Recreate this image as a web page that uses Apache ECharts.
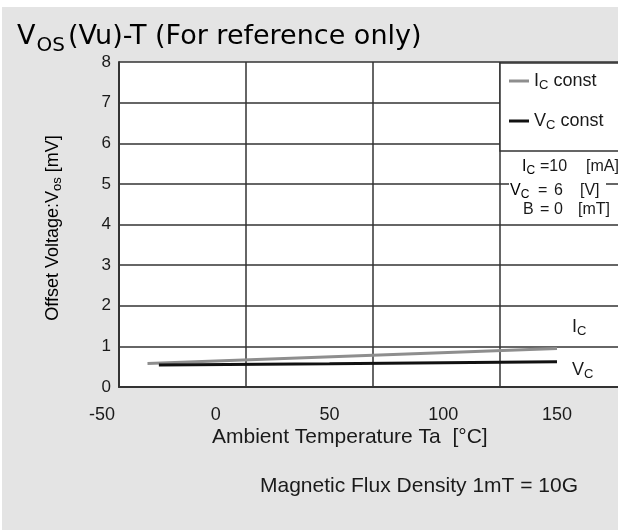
<!DOCTYPE html>
<html><head><meta charset="utf-8">
<script src="https://cdn.jsdelivr.net/npm/echarts@6/dist/echarts.min.js"></script>
<style>html,body{margin:0;padding:0;background:#fff}#c{width:618px;height:530px}</style>
</head><body><div id="c"></div>
<script>
// ---- data ----
const xTicks = [-50, 0, 50, 100, 150];
const yTicks = [0, 1, 2, 3, 4, 5, 6, 7, 8];
const seriesNames = ['Ic const', 'Vc const'];
const icTemp = [-30, 150];
const icVos = [0.58, 0.95];
const vcTemp = [-25, 50, 150];
const vcVos = [0.54, 0.57, 0.62];

const F = "'Liberation Sans', Arial, sans-serif";
const TXT = '#1a1a1a';
const LINE = '#333';

const subRich = (size, sub, lh) => ({
  m: {fontSize: size, fontFamily: F, color: TXT, lineHeight: lh},
  s: {fontSize: sub, fontFamily: F, color: TXT, lineHeight: sub, verticalAlign: 'bottom'}
});

const chart = echarts.init(document.getElementById('c'), null, {renderer: 'canvas'});
const xmin = xTicks[0], xmax = xTicks[xTicks.length - 1];
const ymin = yTicks[0], ymax = yTicks[yTicks.length - 1];

const option = {
  backgroundColor: '#e4e4e4',
  animation: false,
  grid: [
    {left: 119, top: 62, width: 508, height: 325, show: true, backgroundColor: '#fff', borderWidth: 0, outerBoundsMode: 'none'},
    {left: 102, top: 62, width: 455, height: 325, show: false, outerBoundsMode: 'none'}
  ],
  xAxis: [
    {gridIndex: 0, type: 'value', min: xmin, max: xmax, interval: 50,
      axisLine: {show: true, onZero: false, lineStyle: {color: LINE, width: 2}},
      axisTick: {show: false}, axisLabel: {show: false},
      splitLine: {show: true, lineStyle: {color: LINE, width: 1.5}}},
    {gridIndex: 1, type: 'value', min: xmin, max: xmax, interval: 50,
      axisLine: {show: false}, axisTick: {show: false}, splitLine: {show: false},
      axisLabel: {fontSize: 18, color: TXT, margin: 19, fontFamily: F}}
  ],
  yAxis: [
    {gridIndex: 0, type: 'value', min: ymin, max: ymax, interval: 1,
      axisLine: {show: true, onZero: false, lineStyle: {color: LINE, width: 2}},
      axisTick: {show: false},
      axisLabel: {fontSize: 17, color: TXT, margin: 8, fontFamily: F},
      splitLine: {show: true, lineStyle: {color: LINE, width: 1.5}}},
    {gridIndex: 1, type: 'value', min: ymin, max: ymax, show: false}
  ],
  legend: {
    orient: 'vertical', left: 509, top: 72, itemWidth: 20, itemHeight: 3, icon: 'rect',
    itemGap: 20, selectedMode: false, z: 20, padding: 0,
    data: seriesNames,
    formatter: n => n === seriesNames[0] ? '{m|I}{s|C}{m| const}' : '{m|V}{s|C}{m| const}',
    textStyle: {rich: subRich(18, 13, 22)}
  },
  series: [
    {name: seriesNames[0], type: 'line', xAxisIndex: 1, yAxisIndex: 1,
      data: icTemp.map((t, i) => [t, icVos[i]]),
      symbol: 'none', color: '#8e8e8e', lineStyle: {color: '#8e8e8e', width: 3}, z: 3,
      endLabel: {show: true, distance: 15, offset: [0, -21], formatter: '{m|I}{s|C}', rich: subRich(18, 13, 22)}},
    {name: seriesNames[1], type: 'line', xAxisIndex: 1, yAxisIndex: 1,
      data: vcTemp.map((t, i) => [t, vcVos[i]]),
      symbol: 'none', color: '#111', lineStyle: {color: '#111', width: 3}, z: 4,
      endLabel: {show: true, distance: 15, offset: [0, 8], formatter: '{m|V}{s|C}', rich: subRich(18, 13, 22)}}
  ],
  graphic: [
    {type: 'rect', z: 1, shape: {x: 0, y: 0, width: 618, height: 7}, style: {fill: '#fff'}},
    {type: 'rect', z: 1, shape: {x: 0, y: 0, width: 2, height: 530}, style: {fill: '#fff'}},
    // title
    {type: 'text', z: 5, x: 17, y: 17, style: {
      text: '{a|V}{b|OS}{a|(Vu)-T (For reference only)}', textVerticalAlign: 'top',
      rich: {
        a: {fontSize: 27, lineHeight: 39, fontFamily: "'DejaVu Sans', sans-serif", color: TXT},
        b: {fontSize: 20, lineHeight: 20, fontFamily: "'DejaVu Sans', sans-serif", color: TXT, verticalAlign: 'bottom', padding: [0, 3, 0, 1]}
      }}},
    // y axis name
    {type: 'text', z: 5, x: 53, y: 228, rotation: Math.PI / 2, style: {
      text: '{m|Offset Voltage:V}{s|os}{m| [mV]}', textAlign: 'center', textVerticalAlign: 'middle',
      rich: subRich(18, 13, 22)}},
    // x axis name
    {type: 'text', z: 5, x: 212, y: 437, style: {
      text: 'Ambient Temperature Ta  [°C]', textVerticalAlign: 'middle', fontSize: 21, fontFamily: F, fill: TXT}},
    {type: 'text', z: 5, x: 260, y: 486, style: {
      text: 'Magnetic Flux Density 1mT = 10G', textVerticalAlign: 'middle', fontSize: 21, fontFamily: F, fill: TXT}},
    // legend box
    {type: 'rect', z: 10, shape: {x: 500, y: 63, width: 130, height: 88}, style: {fill: '#fff', stroke: LINE, lineWidth: 1.5}},
    // parameter box
    {type: 'rect', z: 10, shape: {x: 509, y: 181, width: 97, height: 20}, style: {fill: '#fff'}},
    {type: 'text', z: 11, x: 522, y: 167, style: {text: '{m|I}{s|C}', textVerticalAlign: 'middle', rich: subRich(16, 12, 20)}},
    {type: 'text', z: 11, x: 540, y: 167, style: {text: '=10', textVerticalAlign: 'middle', fontSize: 16, fontFamily: F, fill: TXT}},
    {type: 'text', z: 11, x: 586, y: 167, style: {text: '[mA]', textVerticalAlign: 'middle', fontSize: 16, fontFamily: F, fill: TXT}},
    {type: 'text', z: 11, x: 510, y: 191, style: {text: '{m|V}{s|C}', textVerticalAlign: 'middle', rich: subRich(16, 12, 20)}},
    {type: 'text', z: 11, x: 538, y: 191, style: {text: '=', textVerticalAlign: 'middle', fontSize: 16, fontFamily: F, fill: TXT}},
    {type: 'text', z: 11, x: 554, y: 191, style: {text: '6', textVerticalAlign: 'middle', fontSize: 16, fontFamily: F, fill: TXT}},
    {type: 'text', z: 11, x: 580, y: 191, style: {text: '[V]', textVerticalAlign: 'middle', fontSize: 16, fontFamily: F, fill: TXT}},
    {type: 'text', z: 11, x: 523, y: 210, style: {text: 'B', textVerticalAlign: 'middle', fontSize: 16, fontFamily: F, fill: TXT}},
    {type: 'text', z: 11, x: 540, y: 210, style: {text: '=', textVerticalAlign: 'middle', fontSize: 16, fontFamily: F, fill: TXT}},
    {type: 'text', z: 11, x: 554, y: 210, style: {text: '0', textVerticalAlign: 'middle', fontSize: 16, fontFamily: F, fill: TXT}},
    {type: 'text', z: 11, x: 578, y: 210, style: {text: '[mT]', textVerticalAlign: 'middle', fontSize: 16, fontFamily: F, fill: TXT}}
  ]
};
chart.setOption(option);
</script>
</body></html>
